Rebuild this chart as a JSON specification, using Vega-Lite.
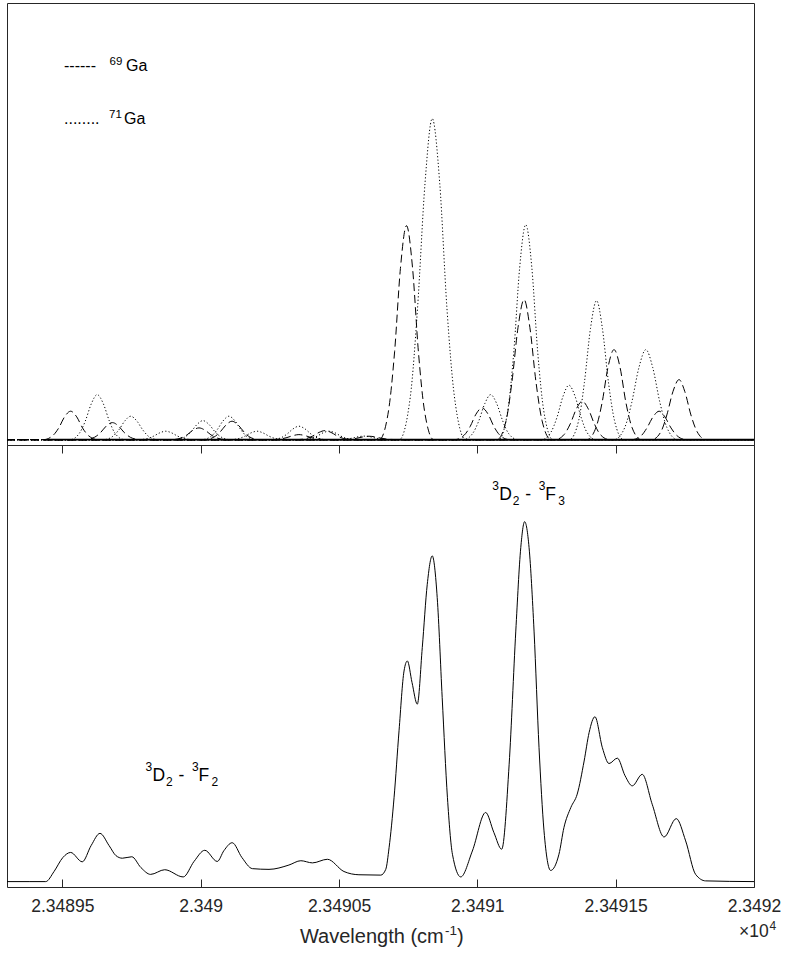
{
  "$schema": "https://vega.github.io/schema/vega-lite/v6.json",
  "background": "white",
  "padding": {"left": 4, "top": 2, "right": 5, "bottom": 5},
  "autosize": {"type": "pad"},
  "spacing": 0,
  "bounds": "flush",
  "config": {
    "view": {"stroke": "#262626", "strokeWidth": 1},
    "axis": {"grid": false},
    "text": {"font": "Liberation Sans"}
  },
  "datasets": {
    "ga69": [
      {"pk":"d1","wn":23489.300,"I":0},{"pk":"d1","wn":23489.432,"I":0},{"pk":"d1","wn":23489.465,"I":1.07},{"pk":"d1","wn":23489.487,"I":3.24},{"pk":"d1","wn":23489.508,"I":6.31},{"pk":"d1","wn":23489.530,"I":7.89},{"pk":"d1","wn":23489.552,"I":6.31},{"pk":"d1","wn":23489.573,"I":3.24},{"pk":"d1","wn":23489.595,"I":1.07},{"pk":"d1","wn":23489.628,"I":0},{"pk":"d1","wn":23492.000,"I":0},
      {"pk":"d2","wn":23489.300,"I":0},{"pk":"d2","wn":23489.583,"I":0},{"pk":"d2","wn":23489.616,"I":0.64},{"pk":"d2","wn":23489.638,"I":1.94},{"pk":"d2","wn":23489.659,"I":3.78},{"pk":"d2","wn":23489.681,"I":4.72},{"pk":"d2","wn":23489.703,"I":3.78},{"pk":"d2","wn":23489.724,"I":1.94},{"pk":"d2","wn":23489.746,"I":0.64},{"pk":"d2","wn":23489.779,"I":0},{"pk":"d2","wn":23492.000,"I":0},
      {"pk":"d3","wn":23489.300,"I":0},{"pk":"d3","wn":23489.896,"I":0},{"pk":"d3","wn":23489.929,"I":0.44},{"pk":"d3","wn":23489.951,"I":1.34},{"pk":"d3","wn":23489.972,"I":2.60},{"pk":"d3","wn":23489.994,"I":3.25},{"pk":"d3","wn":23490.016,"I":2.60},{"pk":"d3","wn":23490.037,"I":1.34},{"pk":"d3","wn":23490.059,"I":0.44},{"pk":"d3","wn":23490.092,"I":0},{"pk":"d3","wn":23492.000,"I":0},
      {"pk":"d4","wn":23489.300,"I":0},{"pk":"d4","wn":23490.016,"I":0},{"pk":"d4","wn":23490.048,"I":0.69},{"pk":"d4","wn":23490.070,"I":2.10},{"pk":"d4","wn":23490.092,"I":4.09},{"pk":"d4","wn":23490.113,"I":5.11},{"pk":"d4","wn":23490.135,"I":4.09},{"pk":"d4","wn":23490.157,"I":2.10},{"pk":"d4","wn":23490.178,"I":0.69},{"pk":"d4","wn":23490.211,"I":0},{"pk":"d4","wn":23492.000,"I":0},
      {"pk":"d5","wn":23489.300,"I":0},{"pk":"d5","wn":23490.258,"I":0},{"pk":"d5","wn":23490.290,"I":0.19},{"pk":"d5","wn":23490.312,"I":0.57},{"pk":"d5","wn":23490.334,"I":1.11},{"pk":"d5","wn":23490.355,"I":1.39},{"pk":"d5","wn":23490.377,"I":1.11},{"pk":"d5","wn":23490.399,"I":0.57},{"pk":"d5","wn":23490.421,"I":0.19},{"pk":"d5","wn":23490.453,"I":0},{"pk":"d5","wn":23492.000,"I":0},
      {"pk":"d6","wn":23489.300,"I":0},{"pk":"d6","wn":23490.352,"I":0},{"pk":"d6","wn":23490.384,"I":0.34},{"pk":"d6","wn":23490.406,"I":1.03},{"pk":"d6","wn":23490.428,"I":2.0},{"pk":"d6","wn":23490.449,"I":2.5},{"pk":"d6","wn":23490.471,"I":2.0},{"pk":"d6","wn":23490.493,"I":1.03},{"pk":"d6","wn":23490.515,"I":0.34},{"pk":"d6","wn":23490.547,"I":0},{"pk":"d6","wn":23492.000,"I":0},
      {"pk":"d7","wn":23489.300,"I":0},{"pk":"d7","wn":23490.511,"I":0},{"pk":"d7","wn":23490.543,"I":0.13},{"pk":"d7","wn":23490.565,"I":0.39},{"pk":"d7","wn":23490.587,"I":0.75},{"pk":"d7","wn":23490.608,"I":0.94},{"pk":"d7","wn":23490.630,"I":0.75},{"pk":"d7","wn":23490.652,"I":0.39},{"pk":"d7","wn":23490.674,"I":0.13},{"pk":"d7","wn":23490.706,"I":0},{"pk":"d7","wn":23492.000,"I":0},
      {"pk":"d8","wn":23489.300,"I":0},{"pk":"d8","wn":23490.646,"I":0},{"pk":"d8","wn":23490.679,"I":8.02},{"pk":"d8","wn":23490.701,"I":24.43},{"pk":"d8","wn":23490.722,"I":47.55},{"pk":"d8","wn":23490.744,"I":59.44},{"pk":"d8","wn":23490.766,"I":47.55},{"pk":"d8","wn":23490.787,"I":24.43},{"pk":"d8","wn":23490.809,"I":8.02},{"pk":"d8","wn":23490.842,"I":0},{"pk":"d8","wn":23492.000,"I":0},
      {"pk":"d9","wn":23489.300,"I":0},{"pk":"d9","wn":23490.919,"I":0},{"pk":"d9","wn":23490.952,"I":1.19},{"pk":"d9","wn":23490.974,"I":3.62},{"pk":"d9","wn":23490.995,"I":7.05},{"pk":"d9","wn":23491.017,"I":8.81},{"pk":"d9","wn":23491.039,"I":7.05},{"pk":"d9","wn":23491.060,"I":3.62},{"pk":"d9","wn":23491.082,"I":1.19},{"pk":"d9","wn":23491.115,"I":0},{"pk":"d9","wn":23492.000,"I":0},
      {"pk":"d10","wn":23489.300,"I":0},{"pk":"d10","wn":23491.071,"I":0},{"pk":"d10","wn":23491.104,"I":5.25},{"pk":"d10","wn":23491.125,"I":15.98},{"pk":"d10","wn":23491.147,"I":31.11},{"pk":"d10","wn":23491.169,"I":38.89},{"pk":"d10","wn":23491.190,"I":31.11},{"pk":"d10","wn":23491.212,"I":15.98},{"pk":"d10","wn":23491.234,"I":5.25},{"pk":"d10","wn":23491.266,"I":0},{"pk":"d10","wn":23492.000,"I":0},
      {"pk":"d11","wn":23489.300,"I":0},{"pk":"d11","wn":23491.282,"I":0},{"pk":"d11","wn":23491.314,"I":1.44},{"pk":"d11","wn":23491.336,"I":4.38},{"pk":"d11","wn":23491.358,"I":8.53},{"pk":"d11","wn":23491.379,"I":10.67},{"pk":"d11","wn":23491.401,"I":8.53},{"pk":"d11","wn":23491.423,"I":4.38},{"pk":"d11","wn":23491.444,"I":1.44},{"pk":"d11","wn":23491.477,"I":0},{"pk":"d11","wn":23492.000,"I":0},
      {"pk":"d12","wn":23489.300,"I":0},{"pk":"d12","wn":23491.396,"I":0},{"pk":"d12","wn":23491.429,"I":3.38},{"pk":"d12","wn":23491.451,"I":10.28},{"pk":"d12","wn":23491.472,"I":20.0},{"pk":"d12","wn":23491.494,"I":25.0},{"pk":"d12","wn":23491.516,"I":20.0},{"pk":"d12","wn":23491.537,"I":10.28},{"pk":"d12","wn":23491.559,"I":3.38},{"pk":"d12","wn":23491.592,"I":0},{"pk":"d12","wn":23492.000,"I":0},
      {"pk":"d13","wn":23489.300,"I":0},{"pk":"d13","wn":23491.559,"I":0},{"pk":"d13","wn":23491.592,"I":1.07},{"pk":"d13","wn":23491.613,"I":3.24},{"pk":"d13","wn":23491.635,"I":6.31},{"pk":"d13","wn":23491.657,"I":7.89},{"pk":"d13","wn":23491.678,"I":6.31},{"pk":"d13","wn":23491.700,"I":3.24},{"pk":"d13","wn":23491.722,"I":1.07},{"pk":"d13","wn":23491.754,"I":0},{"pk":"d13","wn":23492.000,"I":0},
      {"pk":"d14","wn":23489.300,"I":0},{"pk":"d14","wn":23491.631,"I":0},{"pk":"d14","wn":23491.664,"I":2.25},{"pk":"d14","wn":23491.685,"I":6.85},{"pk":"d14","wn":23491.707,"I":13.33},{"pk":"d14","wn":23491.729,"I":16.67},{"pk":"d14","wn":23491.750,"I":13.33},{"pk":"d14","wn":23491.772,"I":6.85},{"pk":"d14","wn":23491.794,"I":2.25},{"pk":"d14","wn":23491.826,"I":0},{"pk":"d14","wn":23492.000,"I":0}
    ],
    "ga71": [
      {"pk":"t1","wn":23489.300,"I":0},{"pk":"t1","wn":23489.529,"I":0},{"pk":"t1","wn":23489.561,"I":1.69},{"pk":"t1","wn":23489.583,"I":5.14},{"pk":"t1","wn":23489.605,"I":10.0},{"pk":"t1","wn":23489.626,"I":12.5},{"pk":"t1","wn":23489.648,"I":10.0},{"pk":"t1","wn":23489.670,"I":5.14},{"pk":"t1","wn":23489.691,"I":1.69},{"pk":"t1","wn":23489.724,"I":0},{"pk":"t1","wn":23492.000,"I":0},
      {"pk":"t2","wn":23489.300,"I":0},{"pk":"t2","wn":23489.650,"I":0},{"pk":"t2","wn":23489.682,"I":0.88},{"pk":"t2","wn":23489.704,"I":2.67},{"pk":"t2","wn":23489.726,"I":5.2},{"pk":"t2","wn":23489.747,"I":6.5},{"pk":"t2","wn":23489.769,"I":5.2},{"pk":"t2","wn":23489.791,"I":2.67},{"pk":"t2","wn":23489.812,"I":0.88},{"pk":"t2","wn":23489.845,"I":0},{"pk":"t2","wn":23492.000,"I":0},
      {"pk":"t3","wn":23489.300,"I":0},{"pk":"t3","wn":23489.776,"I":0},{"pk":"t3","wn":23489.809,"I":0.31},{"pk":"t3","wn":23489.830,"I":0.96},{"pk":"t3","wn":23489.852,"I":1.87},{"pk":"t3","wn":23489.874,"I":2.33},{"pk":"t3","wn":23489.895,"I":1.87},{"pk":"t3","wn":23489.917,"I":0.96},{"pk":"t3","wn":23489.939,"I":0.31},{"pk":"t3","wn":23489.971,"I":0},{"pk":"t3","wn":23492.000,"I":0},
      {"pk":"t4","wn":23489.300,"I":0},{"pk":"t4","wn":23489.911,"I":0},{"pk":"t4","wn":23489.943,"I":0.71},{"pk":"t4","wn":23489.965,"I":2.17},{"pk":"t4","wn":23489.987,"I":4.22},{"pk":"t4","wn":23490.008,"I":5.28},{"pk":"t4","wn":23490.030,"I":4.22},{"pk":"t4","wn":23490.052,"I":2.17},{"pk":"t4","wn":23490.074,"I":0.71},{"pk":"t4","wn":23490.106,"I":0},{"pk":"t4","wn":23492.000,"I":0},
      {"pk":"t5","wn":23489.300,"I":0},{"pk":"t5","wn":23490.005,"I":0},{"pk":"t5","wn":23490.037,"I":0.88},{"pk":"t5","wn":23490.059,"I":2.67},{"pk":"t5","wn":23490.081,"I":5.2},{"pk":"t5","wn":23490.102,"I":6.5},{"pk":"t5","wn":23490.124,"I":5.2},{"pk":"t5","wn":23490.146,"I":2.67},{"pk":"t5","wn":23490.167,"I":0.88},{"pk":"t5","wn":23490.200,"I":0},{"pk":"t5","wn":23492.000,"I":0},
      {"pk":"t6","wn":23489.300,"I":0},{"pk":"t6","wn":23490.106,"I":0},{"pk":"t6","wn":23490.139,"I":0.31},{"pk":"t6","wn":23490.160,"I":0.96},{"pk":"t6","wn":23490.182,"I":1.87},{"pk":"t6","wn":23490.204,"I":2.33},{"pk":"t6","wn":23490.225,"I":1.87},{"pk":"t6","wn":23490.247,"I":0.96},{"pk":"t6","wn":23490.269,"I":0.31},{"pk":"t6","wn":23490.301,"I":0},{"pk":"t6","wn":23492.000,"I":0},
      {"pk":"t7","wn":23489.300,"I":0},{"pk":"t7","wn":23490.258,"I":0},{"pk":"t7","wn":23490.290,"I":0.50},{"pk":"t7","wn":23490.312,"I":1.53},{"pk":"t7","wn":23490.334,"I":2.98},{"pk":"t7","wn":23490.355,"I":3.72},{"pk":"t7","wn":23490.377,"I":2.98},{"pk":"t7","wn":23490.399,"I":1.53},{"pk":"t7","wn":23490.421,"I":0.50},{"pk":"t7","wn":23490.453,"I":0},{"pk":"t7","wn":23492.000,"I":0},
      {"pk":"t8","wn":23489.300,"I":0},{"pk":"t8","wn":23490.366,"I":0},{"pk":"t8","wn":23490.399,"I":0.31},{"pk":"t8","wn":23490.421,"I":0.96},{"pk":"t8","wn":23490.442,"I":1.87},{"pk":"t8","wn":23490.464,"I":2.33},{"pk":"t8","wn":23490.486,"I":1.87},{"pk":"t8","wn":23490.507,"I":0.96},{"pk":"t8","wn":23490.529,"I":0.31},{"pk":"t8","wn":23490.562,"I":0},{"pk":"t8","wn":23492.000,"I":0},
      {"pk":"t9","wn":23489.300,"I":0},{"pk":"t9","wn":23490.493,"I":0},{"pk":"t9","wn":23490.525,"I":0.13},{"pk":"t9","wn":23490.547,"I":0.40},{"pk":"t9","wn":23490.569,"I":0.78},{"pk":"t9","wn":23490.590,"I":0.97},{"pk":"t9","wn":23490.612,"I":0.78},{"pk":"t9","wn":23490.634,"I":0.40},{"pk":"t9","wn":23490.655,"I":0.13},{"pk":"t9","wn":23490.688,"I":0},{"pk":"t9","wn":23492.000,"I":0},
      {"pk":"t10","wn":23489.300,"I":0},{"pk":"t10","wn":23490.718,"I":0},{"pk":"t10","wn":23490.758,"I":12.04},{"pk":"t10","wn":23490.784,"I":36.65},{"pk":"t10","wn":23490.811,"I":71.33},{"pk":"t10","wn":23490.837,"I":89.17},{"pk":"t10","wn":23490.864,"I":71.33},{"pk":"t10","wn":23490.890,"I":36.65},{"pk":"t10","wn":23490.917,"I":12.04},{"pk":"t10","wn":23490.957,"I":0},{"pk":"t10","wn":23492.000,"I":0},
      {"pk":"t11","wn":23489.300,"I":0},{"pk":"t11","wn":23490.951,"I":0},{"pk":"t11","wn":23490.983,"I":1.69},{"pk":"t11","wn":23491.005,"I":5.14},{"pk":"t11","wn":23491.027,"I":10.0},{"pk":"t11","wn":23491.048,"I":12.5},{"pk":"t11","wn":23491.070,"I":10.0},{"pk":"t11","wn":23491.092,"I":5.14},{"pk":"t11","wn":23491.113,"I":1.69},{"pk":"t11","wn":23491.146,"I":0},{"pk":"t11","wn":23492.000,"I":0},
      {"pk":"t12","wn":23489.300,"I":0},{"pk":"t12","wn":23491.077,"I":0},{"pk":"t12","wn":23491.110,"I":8.06},{"pk":"t12","wn":23491.132,"I":24.55},{"pk":"t12","wn":23491.153,"I":47.78},{"pk":"t12","wn":23491.175,"I":59.72},{"pk":"t12","wn":23491.197,"I":47.78},{"pk":"t12","wn":23491.218,"I":24.55},{"pk":"t12","wn":23491.240,"I":8.06},{"pk":"t12","wn":23491.273,"I":0},{"pk":"t12","wn":23492.000,"I":0},
      {"pk":"t13","wn":23489.300,"I":0},{"pk":"t13","wn":23491.234,"I":0},{"pk":"t13","wn":23491.266,"I":2.04},{"pk":"t13","wn":23491.288,"I":6.21},{"pk":"t13","wn":23491.310,"I":12.09},{"pk":"t13","wn":23491.331,"I":15.11},{"pk":"t13","wn":23491.353,"I":12.09},{"pk":"t13","wn":23491.375,"I":6.21},{"pk":"t13","wn":23491.396,"I":2.04},{"pk":"t13","wn":23491.429,"I":0},{"pk":"t13","wn":23492.000,"I":0},
      {"pk":"t14","wn":23489.300,"I":0},{"pk":"t14","wn":23491.333,"I":0},{"pk":"t14","wn":23491.366,"I":5.21},{"pk":"t14","wn":23491.387,"I":15.87},{"pk":"t14","wn":23491.409,"I":30.89},{"pk":"t14","wn":23491.431,"I":38.61},{"pk":"t14","wn":23491.452,"I":30.89},{"pk":"t14","wn":23491.474,"I":15.87},{"pk":"t14","wn":23491.496,"I":5.21},{"pk":"t14","wn":23491.528,"I":0},{"pk":"t14","wn":23492.000,"I":0},
      {"pk":"t15","wn":23489.300,"I":0},{"pk":"t15","wn":23491.495,"I":0},{"pk":"t15","wn":23491.533,"I":3.38},{"pk":"t15","wn":23491.558,"I":10.28},{"pk":"t15","wn":23491.584,"I":20.0},{"pk":"t15","wn":23491.609,"I":25.0},{"pk":"t15","wn":23491.634,"I":20.0},{"pk":"t15","wn":23491.660,"I":10.28},{"pk":"t15","wn":23491.685,"I":3.38},{"pk":"t15","wn":23491.723,"I":0},{"pk":"t15","wn":23492.000,"I":0}
    ],
    "total": [
      {"wn":23489.300,"I":0},{"wn":23489.380,"I":0},{"wn":23489.440,"I":0},{"wn":23489.470,"I":2.8},{"wn":23489.502,"I":6.7},{"wn":23489.530,"I":8.1},{"wn":23489.572,"I":5.5},{"wn":23489.604,"I":10.0},{"wn":23489.636,"I":13.4},{"wn":23489.669,"I":10.0},{"wn":23489.694,"I":7.2},{"wn":23489.717,"I":6.5},{"wn":23489.751,"I":6.9},{"wn":23489.784,"I":3.9},{"wn":23489.819,"I":2.0},{"wn":23489.870,"I":3.3},{"wn":23489.937,"I":1.3},{"wn":23489.976,"I":5.6},{"wn":23490.015,"I":8.7},{"wn":23490.060,"I":5.6},{"wn":23490.084,"I":8.6},{"wn":23490.114,"I":10.8},{"wn":23490.149,"I":6.7},{"wn":23490.187,"I":3.6},{"wn":23490.247,"I":3.4},{"wn":23490.319,"I":4.6},{"wn":23490.362,"I":5.8},{"wn":23490.404,"I":5.2},{"wn":23490.458,"I":6.2},{"wn":23490.518,"I":2.8},{"wn":23490.572,"I":1.9},{"wn":23490.651,"I":1.8},{"wn":23490.669,"I":3.4},{"wn":23490.681,"I":9.4},{"wn":23490.699,"I":23.3},{"wn":23490.717,"I":41.9},{"wn":23490.735,"I":58.5},{"wn":23490.747,"I":61.3},{"wn":23490.764,"I":55.3},{"wn":23490.783,"I":49.3},{"wn":23490.801,"I":65.0},{"wn":23490.819,"I":82.6},{"wn":23490.837,"I":90.5},{"wn":23490.855,"I":78.9},{"wn":23490.873,"I":51.1},{"wn":23490.892,"I":23.3},{"wn":23490.910,"I":7.6},{"wn":23490.940,"I":1.3},{"wn":23490.982,"I":8.5},{"wn":23491.030,"I":19.2},{"wn":23491.060,"I":13.6},{"wn":23491.088,"I":9.0},{"wn":23491.115,"I":32.6},{"wn":23491.139,"I":69.6},{"wn":23491.157,"I":92.8},{"wn":23491.171,"I":100},{"wn":23491.187,"I":92.8},{"wn":23491.205,"I":69.6},{"wn":23491.223,"I":37.2},{"wn":23491.241,"I":14.1},{"wn":23491.265,"I":3.1},{"wn":23491.295,"I":7.6},{"wn":23491.313,"I":15.0},{"wn":23491.338,"I":20.6},{"wn":23491.361,"I":24.3},{"wn":23491.386,"I":33.5},{"wn":23491.404,"I":41.4},{"wn":23491.425,"I":45.8},{"wn":23491.452,"I":37.2},{"wn":23491.476,"I":32.8},{"wn":23491.506,"I":34.3},{"wn":23491.534,"I":29.4},{"wn":23491.560,"I":26.6},{"wn":23491.596,"I":29.8},{"wn":23491.632,"I":21.5},{"wn":23491.675,"I":12.4},{"wn":23491.719,"I":17.5},{"wn":23491.753,"I":11.3},{"wn":23491.789,"I":2.0},{"wn":23491.825,"I":0.2},{"wn":23492.000,"I":0}
    ]
  },
  "vconcat": [
    {
      "width": 747,
      "height": 442,
      "layer": [
        {
          "data": {"name": "ga69"},
          "mark": {"type": "line", "interpolate": "monotone", "color": "black", "strokeWidth": 1, "strokeDash": [8, 4]},
          "encoding": {
            "x": {"field": "wn", "type": "quantitative", "scale": {"domain": [23489.3, 23492.0], "nice": false, "zero": false}, "axis": null},
            "y": {"field": "I", "type": "quantitative", "scale": {"domain": [-1.5, 121.3], "nice": false, "zero": false}, "axis": null},
            "detail": {"field": "pk", "type": "nominal"}
          }
        },
        {
          "data": {"name": "ga71"},
          "mark": {"type": "line", "interpolate": "monotone", "color": "black", "strokeWidth": 1, "strokeDash": [1.2, 2.2]},
          "encoding": {
            "x": {"field": "wn", "type": "quantitative", "axis": null},
            "y": {"field": "I", "type": "quantitative", "axis": null},
            "detail": {"field": "pk", "type": "nominal"}
          }
        },
        {
          "data": {"values": [{}]},
          "mark": {"type": "rule", "color": "black", "strokeWidth": 1.6},
          "encoding": {
            "x": {"datum": 23489.45, "type": "quantitative", "axis": null},
            "x2": {"datum": 23492.0},
            "y": {"datum": 0, "type": "quantitative", "axis": null}
          }
        },
        {
          "data": {"values": [{}]},
          "mark": {"type": "text", "align": "left", "baseline": "alphabetic", "fontSize": 16, "color": "black"},
          "encoding": {"x": {"datum": 23489.506, "type": "quantitative", "axis": null}, "y": {"datum": 102.5, "type": "quantitative", "axis": null}, "text": {"value": "------"}}
        },
        {
          "data": {"values": [{}]},
          "mark": {"type": "text", "align": "left", "baseline": "alphabetic", "fontSize": 11.5, "dx": 45.5, "dy": -6, "color": "black"},
          "encoding": {"x": {"datum": 23489.506, "type": "quantitative", "axis": null}, "y": {"datum": 102.5, "type": "quantitative", "axis": null}, "text": {"value": "69"}}
        },
        {
          "data": {"values": [{}]},
          "mark": {"type": "text", "align": "left", "baseline": "alphabetic", "fontSize": 16, "dx": 62, "color": "black"},
          "encoding": {"x": {"datum": 23489.506, "type": "quantitative", "axis": null}, "y": {"datum": 102.5, "type": "quantitative", "axis": null}, "text": {"value": "Ga"}}
        },
        {
          "data": {"values": [{}]},
          "mark": {"type": "text", "align": "left", "baseline": "alphabetic", "fontSize": 16, "color": "black"},
          "encoding": {"x": {"datum": 23489.506, "type": "quantitative", "axis": null}, "y": {"datum": 87.8, "type": "quantitative", "axis": null}, "text": {"value": "........"}}
        },
        {
          "data": {"values": [{}]},
          "mark": {"type": "text", "align": "left", "baseline": "alphabetic", "fontSize": 11.5, "dx": 45, "dy": -6, "color": "black"},
          "encoding": {"x": {"datum": 23489.506, "type": "quantitative", "axis": null}, "y": {"datum": 87.8, "type": "quantitative", "axis": null}, "text": {"value": "71"}}
        },
        {
          "data": {"values": [{}]},
          "mark": {"type": "text", "align": "left", "baseline": "alphabetic", "fontSize": 16, "dx": 60, "color": "black"},
          "encoding": {"x": {"datum": 23489.506, "type": "quantitative", "axis": null}, "y": {"datum": 87.8, "type": "quantitative", "axis": null}, "text": {"value": "Ga"}}
        }
      ]
    },
    {
      "width": 747,
      "height": 442,
      "layer": [
        {
          "data": {"name": "total"},
          "mark": {"type": "line", "interpolate": "monotone", "color": "black", "strokeWidth": 1},
          "encoding": {
            "x": {
              "field": "wn", "type": "quantitative",
              "scale": {"domain": [23489.3, 23492.0], "nice": false, "zero": false},
              "axis": {
                "orient": "bottom",
                "values": [23489.5, 23490, 23490.5, 23491, 23491.5, 23492],
                "labelExpr": "format(datum.value/10000, '.5~f')",
                "domain": false, "grid": false,
                "tickSize": -8, "tickColor": "#262626", "tickWidth": 1,
                "labelFont": "Liberation Sans", "labelFontSize": 17.5, "labelColor": "#262626",
                "labelPadding": 18, "labelFlush": false, "labelOverlap": false,
                "title": null
              }
            },
            "y": {"field": "I", "type": "quantitative", "scale": {"domain": [-1.5, 121.3], "nice": false, "zero": false}, "axis": null}
          }
        },
        {
          "data": {"name": "total"},
          "mark": {"type": "rule", "strokeOpacity": 0},
          "encoding": {
            "x": {
              "field": "wn", "type": "quantitative",
              "axis": {
                "orient": "top",
                "values": [23489.5, 23490, 23490.5, 23491, 23491.5, 23492],
                "labels": false, "domain": false, "grid": false,
                "tickSize": -8, "tickColor": "#262626", "tickWidth": 1,
                "title": null
              }
            }
          }
        },
        {
          "data": {"values": [{}]},
          "mark": {"type": "text", "align": "left", "baseline": "alphabetic", "fontSize": 20, "color": "#262626"},
          "encoding": {"x": {"datum": 23490.359, "type": "quantitative", "axis": null}, "y": {"datum": -17.1, "type": "quantitative", "axis": null}, "text": {"value": "Wavelength (cm"}}
        },
        {
          "data": {"values": [{}]},
          "mark": {"type": "text", "align": "left", "baseline": "alphabetic", "fontSize": 13.5, "dx": 145, "dy": -8, "color": "#262626"},
          "encoding": {"x": {"datum": 23490.359, "type": "quantitative", "axis": null}, "y": {"datum": -17.1, "type": "quantitative", "axis": null}, "text": {"value": "-1"}}
        },
        {
          "data": {"values": [{}]},
          "mark": {"type": "text", "align": "left", "baseline": "alphabetic", "fontSize": 20, "dx": 157, "color": "#262626"},
          "encoding": {"x": {"datum": 23490.359, "type": "quantitative", "axis": null}, "y": {"datum": -17.1, "type": "quantitative", "axis": null}, "text": {"value": ")"}}
        },
        {
          "data": {"values": [{}]},
          "mark": {"type": "text", "align": "left", "baseline": "alphabetic", "fontSize": 17.5, "color": "#262626"},
          "encoding": {"x": {"datum": 23491.946, "type": "quantitative", "axis": null}, "y": {"datum": -15.4, "type": "quantitative", "axis": null}, "text": {"value": "×10"}}
        },
        {
          "data": {"values": [{}]},
          "mark": {"type": "text", "align": "left", "baseline": "alphabetic", "fontSize": 12, "dx": 30.5, "dy": -7.5, "color": "#262626"},
          "encoding": {"x": {"datum": 23491.946, "type": "quantitative", "axis": null}, "y": {"datum": -15.4, "type": "quantitative", "axis": null}, "text": {"value": "4"}}
        },
        {
          "data": {"values": [{}]},
          "mark": {"type": "text", "align": "left", "baseline": "alphabetic", "fontSize": 12, "dy": -10, "color": "black"},
          "encoding": {"x": {"datum": 23489.801, "type": "quantitative", "axis": null}, "y": {"datum": 27.95, "type": "quantitative", "axis": null}, "text": {"value": "3"}}
        },
        {
          "data": {"values": [{}]},
          "mark": {"type": "text", "align": "left", "baseline": "alphabetic", "fontSize": 17.5, "dx": 7, "color": "black"},
          "encoding": {"x": {"datum": 23489.801, "type": "quantitative", "axis": null}, "y": {"datum": 27.95, "type": "quantitative", "axis": null}, "text": {"value": "D"}}
        },
        {
          "data": {"values": [{}]},
          "mark": {"type": "text", "align": "left", "baseline": "alphabetic", "fontSize": 12, "dx": 20.5, "dy": 5, "color": "black"},
          "encoding": {"x": {"datum": 23489.801, "type": "quantitative", "axis": null}, "y": {"datum": 27.95, "type": "quantitative", "axis": null}, "text": {"value": "2"}}
        },
        {
          "data": {"values": [{}]},
          "mark": {"type": "text", "align": "left", "baseline": "alphabetic", "fontSize": 17.5, "dx": 33, "color": "black"},
          "encoding": {"x": {"datum": 23489.801, "type": "quantitative", "axis": null}, "y": {"datum": 27.95, "type": "quantitative", "axis": null}, "text": {"value": "-"}}
        },
        {
          "data": {"values": [{}]},
          "mark": {"type": "text", "align": "left", "baseline": "alphabetic", "fontSize": 12, "dx": 46.5, "dy": -10, "color": "black"},
          "encoding": {"x": {"datum": 23489.801, "type": "quantitative", "axis": null}, "y": {"datum": 27.95, "type": "quantitative", "axis": null}, "text": {"value": "3"}}
        },
        {
          "data": {"values": [{}]},
          "mark": {"type": "text", "align": "left", "baseline": "alphabetic", "fontSize": 17.5, "dx": 53, "color": "black"},
          "encoding": {"x": {"datum": 23489.801, "type": "quantitative", "axis": null}, "y": {"datum": 27.95, "type": "quantitative", "axis": null}, "text": {"value": "F"}}
        },
        {
          "data": {"values": [{}]},
          "mark": {"type": "text", "align": "left", "baseline": "alphabetic", "fontSize": 12, "dx": 66, "dy": 5, "color": "black"},
          "encoding": {"x": {"datum": 23489.801, "type": "quantitative", "axis": null}, "y": {"datum": 27.95, "type": "quantitative", "axis": null}, "text": {"value": "2"}}
        },
        {
          "data": {"values": [{}]},
          "mark": {"type": "text", "align": "left", "baseline": "alphabetic", "fontSize": 12, "dy": -10, "color": "black"},
          "encoding": {"x": {"datum": 23491.054, "type": "quantitative", "axis": null}, "y": {"datum": 106.0, "type": "quantitative", "axis": null}, "text": {"value": "3"}}
        },
        {
          "data": {"values": [{}]},
          "mark": {"type": "text", "align": "left", "baseline": "alphabetic", "fontSize": 17.5, "dx": 7, "color": "black"},
          "encoding": {"x": {"datum": 23491.054, "type": "quantitative", "axis": null}, "y": {"datum": 106.0, "type": "quantitative", "axis": null}, "text": {"value": "D"}}
        },
        {
          "data": {"values": [{}]},
          "mark": {"type": "text", "align": "left", "baseline": "alphabetic", "fontSize": 12, "dx": 20.5, "dy": 5, "color": "black"},
          "encoding": {"x": {"datum": 23491.054, "type": "quantitative", "axis": null}, "y": {"datum": 106.0, "type": "quantitative", "axis": null}, "text": {"value": "2"}}
        },
        {
          "data": {"values": [{}]},
          "mark": {"type": "text", "align": "left", "baseline": "alphabetic", "fontSize": 17.5, "dx": 33, "color": "black"},
          "encoding": {"x": {"datum": 23491.054, "type": "quantitative", "axis": null}, "y": {"datum": 106.0, "type": "quantitative", "axis": null}, "text": {"value": "-"}}
        },
        {
          "data": {"values": [{}]},
          "mark": {"type": "text", "align": "left", "baseline": "alphabetic", "fontSize": 12, "dx": 46.5, "dy": -10, "color": "black"},
          "encoding": {"x": {"datum": 23491.054, "type": "quantitative", "axis": null}, "y": {"datum": 106.0, "type": "quantitative", "axis": null}, "text": {"value": "3"}}
        },
        {
          "data": {"values": [{}]},
          "mark": {"type": "text", "align": "left", "baseline": "alphabetic", "fontSize": 17.5, "dx": 53, "color": "black"},
          "encoding": {"x": {"datum": 23491.054, "type": "quantitative", "axis": null}, "y": {"datum": 106.0, "type": "quantitative", "axis": null}, "text": {"value": "F"}}
        },
        {
          "data": {"values": [{}]},
          "mark": {"type": "text", "align": "left", "baseline": "alphabetic", "fontSize": 12, "dx": 66, "dy": 5, "color": "black"},
          "encoding": {"x": {"datum": 23491.054, "type": "quantitative", "axis": null}, "y": {"datum": 106.0, "type": "quantitative", "axis": null}, "text": {"value": "3"}}
        }
      ]
    }
  ]
}
